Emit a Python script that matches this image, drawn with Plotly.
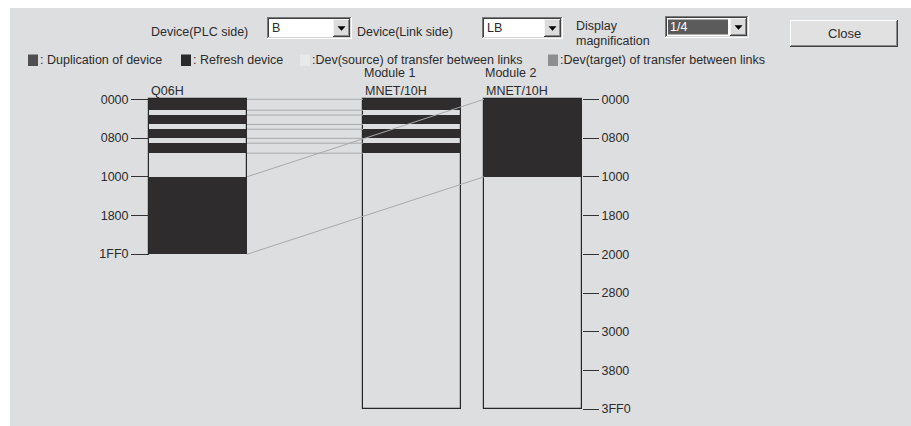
import plotly.graph_objects as go

W, H = 911, 426

# ---------------- data ----------------
CPU_NAME = "Q06H"
MODULE_NAMES = ["Module 1", "Module 2"]
MODULE_TYPES = ["MNET/10H", "MNET/10H"]
PLC_DEVICE = "B"
LINK_DEVICE = "LB"
MAGNIFICATION = "1/4"
PLC_SIZE = 0x2000      # B0000 - B1FFF
LINK_SIZE = 0x4000     # LB0000 - LB3FFF
PLC_TICKS = [0x0000, 0x0800, 0x1000, 0x1800, 0x1FF0]
LINK_TICKS = [0x0000, 0x0800, 0x1000, 0x1800, 0x2000, 0x2800, 0x3000, 0x3800, 0x3FF0]
# Module 1 refresh ranges (B side == LB side)
M1_START = [0x000, 0x340, 0x630, 0x910]
M1_END = [0x240, 0x530, 0x810, 0xB20]
# Module 2 refresh: B1000-B1FFF -> LB0000-LB0FFF
M2_PLC_START = [0x1000]
M2_PLC_END = [0x2000]
M2_LINK_START = [0x0000]
M2_LINK_END = [0x1000]
LEGEND_LABELS = [": Duplication of device", ": Refresh device",
                 ":Dev(source) of transfer between links",
                 ":Dev(target) of transfer between links"]
TOP_LABELS = ["Device(PLC side)", "Device(Link side)", "Display", "magnification"]
CLOSE_LABEL = "Close"

# ---------------- layout constants ----------------
FONT = "Liberation Sans, Arial, sans-serif"
TXT = "#2b2b2b"
PANEL = "#dddee0"
DARK = "#2e2c2d"
LINK_LINE = "#a9a9aa"
COL_W = 98
COL_X = {"cpu": 198, "m1": 412, "m2": 533}
PX0 = 99.3                 # pixel row of address 0
PX_PER = 155.0 / 0x2000    # pixels per address
Y_RANGE = [(H - PX0) / PX_PER, -PX0 / PX_PER]

fig = go.Figure()


def left(c):
    return COL_X[c] - COL_W / 2


def right(c):
    return COL_X[c] + COL_W / 2


# column outlines
for c, size in (("cpu", PLC_SIZE), ("m1", LINK_SIZE), ("m2", LINK_SIZE)):
    fig.add_trace(go.Bar(x=[COL_X[c]], y=[size], base=[0], width=COL_W,
                         marker=dict(color="rgba(0,0,0,0)", line=dict(color="#262626", width=1.2)),
                         hoverinfo="skip", showlegend=False))

# refresh bands
cpu_starts = M1_START + M2_PLC_START
cpu_ends = M1_END + M2_PLC_END
fig.add_trace(go.Bar(x=[COL_X["cpu"]] * len(cpu_starts),
                     y=[e - s for s, e in zip(cpu_starts, cpu_ends)], base=cpu_starts,
                     width=COL_W, marker=dict(color=DARK, line=dict(width=0)),
                     hoverinfo="skip", showlegend=False))
fig.add_trace(go.Bar(x=[COL_X["m1"]] * len(M1_START),
                     y=[e - s for s, e in zip(M1_START, M1_END)], base=M1_START,
                     width=COL_W, marker=dict(color=DARK, line=dict(width=0)),
                     hoverinfo="skip", showlegend=False))
fig.add_trace(go.Bar(x=[COL_X["m2"]] * len(M2_LINK_START),
                     y=[e - s for s, e in zip(M2_LINK_START, M2_LINK_END)], base=M2_LINK_START,
                     width=COL_W, marker=dict(color=DARK, line=dict(width=0)),
                     hoverinfo="skip", showlegend=False))

# link lines CPU -> Module 1 (horizontal)
hx, hy = [], []
for s, e in zip(M1_START, M1_END):
    for v in (s, e):
        hx += [right("cpu"), left("m1"), None]
        hy += [v, v, None]
fig.add_trace(go.Scatter(x=hx, y=hy, mode="lines", line=dict(color=LINK_LINE, width=1),
                         hoverinfo="skip", showlegend=False))
# link lines CPU -> Module 2 (diagonal)
dx, dy = [], []
for ps, pe, ls, le in zip(M2_PLC_START, M2_PLC_END, M2_LINK_START, M2_LINK_END):
    dx += [right("cpu"), left("m2"), None, right("cpu"), left("m2"), None]
    dy += [ps, ls, None, pe, le, None]
fig.add_trace(go.Scatter(x=dx, y=dy, mode="lines", line=dict(color=LINK_LINE, width=1),
                         hoverinfo="skip", showlegend=False))

# ---------------- UI chrome (pixel coordinates on x / y4) ----------------
shapes = []
ann = []


def rect(x0, y0, x1, y1, fill, line=None, lw=0, layer="above"):
    shapes.append(dict(type="rect", xref="x", yref="y4", x0=x0, y0=y0, x1=x1, y1=y1,
                       fillcolor=fill, line=dict(color=line or fill, width=lw), layer=layer))


def hline(x0, x1, y, color):
    shapes.append(dict(type="line", xref="x", yref="y4", x0=x0, x1=x1, y0=y, y1=y,
                       line=dict(color=color, width=1)))


def vline(x, y0, y1, color):
    shapes.append(dict(type="line", xref="x", yref="y4", x0=x, x1=x, y0=y0, y1=y1,
                       line=dict(color=color, width=1)))


def text(x, y, s, size=12.5, color=TXT, anchor="left", pad=1):
    ann.append(dict(xref="x", yref="y4", x=x, y=y, text=s, showarrow=False, borderpad=pad,
                    xanchor=anchor, yanchor="middle", font=dict(family=FONT, size=size, color=color)))


rect(10, 8, W + 2, H + 2, PANEL, layer="below")


def combo(x0, y0, x1, y1, label, highlight=False):
    rect(x0, y0, x1, y1, "#ffffff")
    hline(x0, x1, y0 + 0.5, "#7a7a7a")
    vline(x0 + 0.5, y0, y1, "#7a7a7a")
    hline(x0 + 1, x1 - 1, y0 + 1.5, "#404040")
    vline(x0 + 1.5, y0 + 1, y1 - 1, "#404040")
    hline(x0, x1, y1 - 0.5, "#ffffff")
    vline(x1 - 0.5, y0, y1, "#ffffff")
    hline(x0 + 1, x1 - 1, y1 - 1.5, "#d4d4d4")
    vline(x1 - 1.5, y0 + 1, y1 - 1, "#d4d4d4")
    bx0, bx1, by0, by1 = x1 - 19, x1 - 2, y0 + 2, y1 - 2
    rect(bx0, by0, bx1, by1, "#dcdcdc")
    hline(bx0, bx1, by0 + 0.5, "#f4f4f4")
    vline(bx0 + 0.5, by0, by1, "#f4f4f4")
    hline(bx0, bx1, by1 - 0.5, "#404040")
    vline(bx1 - 0.5, by0, by1, "#404040")
    hline(bx0 + 1, bx1 - 1, by1 - 1.5, "#8a8a8a")
    vline(bx1 - 1.5, by0 + 1, by1 - 1, "#8a8a8a")
    cx, cy = (bx0 + bx1) / 2, (by0 + by1) / 2
    shapes.append(dict(type="path", xref="x", yref="y4",
                       path=f"M{cx-3.5},{cy-1.5} L{cx+3.5},{cy-1.5} L{cx},{cy+2.5} Z",
                       fillcolor="#000000", line=dict(color="#000000", width=0.5)))
    if highlight:
        rect(x0 + 3, y0 + 3.5, bx0 - 2, y1 - 3.5, "#5b5b5b")
        text(x0 + 3, (y0 + y1) / 2, label, color="#ffffff")
    else:
        text(x0 + 3, (y0 + y1) / 2, label)


text(149, 32, TOP_LABELS[0])
combo(267, 17, 352, 39, PLC_DEVICE)
text(355, 32, TOP_LABELS[1])
combo(482, 17, 563, 39, LINK_DEVICE)
text(574, 26, TOP_LABELS[2])
text(574, 41, TOP_LABELS[3])
combo(665, 16, 749, 38, MAGNIFICATION, highlight=True)

# Close button
bx0, by0, bx1, by1 = 790, 20, 898, 47
rect(bx0, by0, bx1, by1, "#e1e1e1")
hline(bx0, bx1, by0 + 0.5, "#ffffff")
vline(bx0 + 0.5, by0, by1, "#ffffff")
hline(bx0, bx1, by1 - 0.5, "#404040")
vline(bx1 - 0.5, by0, by1, "#404040")
hline(bx0 + 1, bx1 - 1, by1 - 1.5, "#8c8c8c")
vline(bx1 - 1.5, by0 + 1, by1 - 1, "#8c8c8c")
text((bx0 + bx1) / 2, 33.5, CLOSE_LABEL, size=13, anchor="center")

# legend row
LEG_SQ = [28, 181, 300, 548]
LEG_COL = ["#4f4f4f", "#2a2a2a", "#e8e9ea", "#8e8e8e"]
for sx, col, lab in zip(LEG_SQ, LEG_COL, LEGEND_LABELS):
    rect(sx, 54.5, sx + 10, 66, col)
    text(sx + 11, 60, lab, pad=0)

# column titles
text(left("cpu"), 91, CPU_NAME)
for c, name, typ in zip(("m1", "m2"), MODULE_NAMES, MODULE_TYPES):
    text(left(c), 72.5, name, pad=0)
    text(left(c), 91, typ)

tick_font = dict(family=FONT, size=12.5, color=TXT)
fig.update_layout(
    width=W, height=H, margin=dict(l=0, r=0, t=0, b=0),
    paper_bgcolor="#ffffff", plot_bgcolor="#ffffff",
    barmode="overlay", bargap=0, showlegend=False,
    xaxis=dict(range=[0, W], visible=False, fixedrange=True),
    yaxis=dict(range=Y_RANGE, visible=False, fixedrange=True),
    yaxis2=dict(range=Y_RANGE, overlaying="y", anchor="free", position=left("cpu") / W,
                side="left", showgrid=False, zeroline=False, showline=False,
                ticks="outside", ticklen=18, tickwidth=1, tickcolor="#333333",
                tickvals=PLC_TICKS, ticktext=[f"{v:04X}" for v in PLC_TICKS],
                tickfont=tick_font, fixedrange=True),
    yaxis3=dict(range=Y_RANGE, overlaying="y", anchor="free", position=right("m2") / W,
                side="right", showgrid=False, zeroline=False, showline=False,
                ticks="outside", ticklen=16, tickwidth=1, tickcolor="#333333",
                tickvals=LINK_TICKS, ticktext=[f"{v:04X}" for v in LINK_TICKS],
                tickfont=tick_font, fixedrange=True),
    yaxis4=dict(range=[H, 0], overlaying="y", visible=False, fixedrange=True),
    shapes=shapes, annotations=ann,
)
# dummy traces to activate the extra axes
fig.add_trace(go.Scatter(x=[None], y=[None], yaxis="y2", showlegend=False, hoverinfo="skip"))
fig.add_trace(go.Scatter(x=[None], y=[None], yaxis="y3", showlegend=False, hoverinfo="skip"))
fig.add_trace(go.Scatter(x=[None], y=[None], yaxis="y4", showlegend=False, hoverinfo="skip"))

fig.write_html("out.html", config={"displayModeBar": False},
               post_script="document.body.style.margin='0px';"
                           "document.documentElement.style.margin='0px';"
                           "document.body.style.overflow='hidden';")
